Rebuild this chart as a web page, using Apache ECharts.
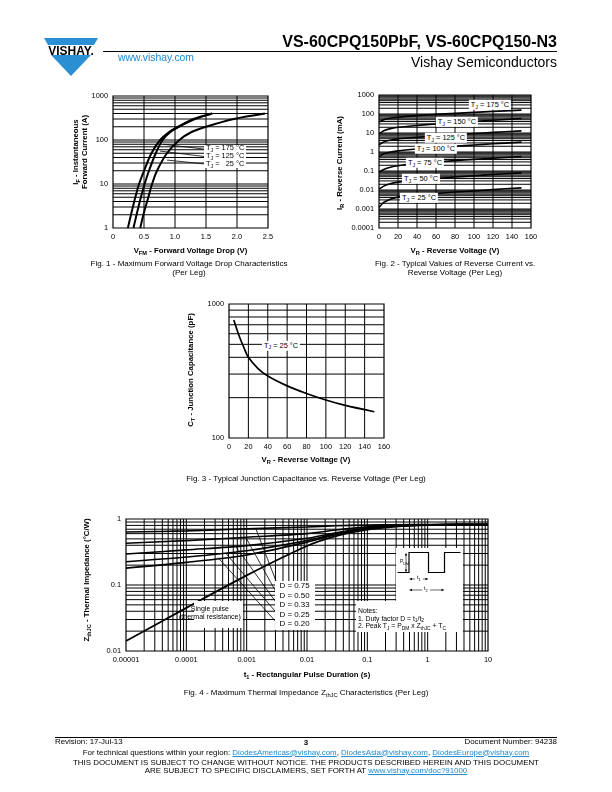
<!DOCTYPE html>
<html><head><meta charset="utf-8"><title>VS-60CPQ150PbF</title>
<script src="https://cdn.jsdelivr.net/npm/echarts@6.0.0/dist/echarts.min.js"></script>
<style>
html,body{margin:0;padding:0;background:#fff;}
#page{position:relative;width:612px;height:792px;overflow:hidden;background:#fff;font-family:"Liberation Sans",Arial,Helvetica,sans-serif;color:#000;}
#chart{position:absolute;left:0;top:0;width:612px;height:792px;}
.tx{position:absolute;white-space:nowrap;line-height:1;z-index:6;}
.s{font-size:72%;position:relative;top:0.3em;}
.box{position:absolute;background:#fff;z-index:5;}
.lnk{color:#1a8ad4;text-decoration:underline;}
</style></head><body>
<div id="page"><div id="chart"></div></div>
<script>
// ---------------- data ----------------
// Fig. 1 - forward voltage drop  [V, A]
const fig1XTicks = [0, 0.5, 1, 1.5, 2, 2.5];
const fig1XLabels = ['0', '0.5', '1.0', '1.5', '2.0', '2.5'];
const fig1YTicks = [1, 10, 100, 1000];
const fig1YLabels = ['1', '10', '100', '1000'];
const fig1Tj175 = [[0.24,1],[0.29,2],[0.36,5],[0.42,10],[0.5,20],[0.62,50],[0.76,100],[0.9,150],[1.05,200],[1.3,300],[1.6,400]];
const fig1Tj125 = [[0.33,1],[0.38,2],[0.45,5],[0.51,10],[0.58,20],[0.69,50],[0.8,100],[0.92,150],[1.06,200],[1.32,300],[1.6,400]];
const fig1Tj25  = [[0.44,1],[0.49,2],[0.57,5],[0.63,10],[0.71,20],[0.87,50],[1.07,100],[1.26,150],[1.5,200],[1.95,300],[2.45,400]];
const fig1Names = ['175', '125', ' 25'];

// Fig. 2 - reverse current  [V] x [mA]
const fig2XTicks = [0, 20, 40, 60, 80, 100, 120, 140, 160];
const fig2YTicks = [0.0001, 0.001, 0.01, 0.1, 1, 10, 100, 1000];
const fig2YLabels = ['0.0001', '0.001', '0.01', '0.1', '1', '10', '100', '1000'];
const fig2V = [0, 5, 10, 20, 40, 60, 80, 100, 120, 150];
const fig2Tj175 = [38, 50, 58, 68, 82, 95, 108, 122, 137, 160];
const fig2Tj150 = [9, 13, 16, 20, 25, 30, 35, 40, 47, 58];
const fig2Tj125 = [2.4, 3.4, 4.0, 4.9, 6.0, 7.1, 8.2, 9.4, 10.8, 13];
const fig2Tj100 = [0.55, 0.8, 0.95, 1.15, 1.45, 1.75, 2.0, 2.35, 2.7, 3.3];
const fig2Tj75  = [0.085, 0.12, 0.15, 0.19, 0.25, 0.3, 0.35, 0.41, 0.47, 0.57];
const fig2Tj50  = [0.011, 0.016, 0.02, 0.026, 0.034, 0.041, 0.048, 0.056, 0.065, 0.08];
const fig2Tj25  = [0.0012, 0.0022, 0.003, 0.0042, 0.0055, 0.0066, 0.0078, 0.009, 0.0105, 0.013];
const fig2Names = ['175', '150', '125', '100', '75', '50', '25'];

// Fig. 3 - junction capacitance  [V] x [pF]
const fig3XTicks = [0, 20, 40, 60, 80, 100, 120, 140, 160];
const fig3YTicks = [100, 1000];
const fig3V = [5, 10, 15, 20, 30, 40, 60, 80, 100, 120, 150];
const fig3C = [760, 590, 480, 400, 330, 290, 245, 215, 192, 175, 157];

// Fig. 4 - thermal impedance  [s] x [degC/W]
const fig4XTicks = [0.00001, 0.0001, 0.001, 0.01, 0.1, 1, 10];
const fig4XLabels = ['0.00001', '0.0001', '0.001', '0.01', '0.1', '1', '10'];
const fig4YTicks = [0.01, 0.1, 1];
const fig4YLabels = ['0.01', '0.1', '1'];
const fig4T = [0.00001, 0.0001, 0.001, 0.01, 0.03, 0.1, 0.3, 1, 3, 10];
const fig4D075 = [0.634, 0.66, 0.71, 0.757, 0.79, 0.81, 0.82, 0.825, 0.825, 0.825];
const fig4D050 = [0.43, 0.47, 0.53, 0.6, 0.68, 0.76, 0.8, 0.82, 0.825, 0.825];
const fig4D033 = [0.295, 0.34, 0.395, 0.51, 0.62, 0.73, 0.79, 0.815, 0.825, 0.825];
const fig4D025 = [0.225, 0.265, 0.33, 0.47, 0.6, 0.72, 0.785, 0.815, 0.825, 0.825];
const fig4D020 = [0.18, 0.22, 0.285, 0.445, 0.58, 0.71, 0.78, 0.81, 0.825, 0.825];
const fig4Single = [0.0142, 0.045, 0.14, 0.39, 0.55, 0.69, 0.77, 0.81, 0.825, 0.825];
const fig4DNames = ['0.75', '0.50', '0.33', '0.25', '0.20'];

// ---------------- helpers ----------------
const FONT = '"Liberation Sans", Arial, sans-serif';
function lbl(ticks, labels) {
  return v => {
    for (let i = 0; i < ticks.length; i++) {
      if (Math.abs(v - ticks[i]) <= Math.abs(ticks[i]) * 1e-6 + 1e-12) return labels ? labels[i] : String(ticks[i]);
    }
    return '';
  };
}
function logLines(minE, maxE) {
  const out = [];
  for (let e = minE; e < maxE; e++) {
    for (let m = 1; m <= 9; m++) {
      if (e === minE && m === 1) continue;
      out.push(m * Math.pow(10, e));
    }
  }
  return out;
}
function zip(xs, ys) { return xs.map((x, i) => [x, ys[i]]); }
const base = () => ({
  axisLine: { show: false }, axisTick: { show: false }, splitLine: { show: false },
  axisLabel: { fontSize: 7.4, color: '#000', fontFamily: FONT, margin: 5 }
});
function valAxis(gi, min, max, interval, ticks, labels) {
  const a = base();
  return Object.assign(a, { type: 'value', gridIndex: gi, min, max, interval,
    axisLabel: Object.assign(a.axisLabel, { formatter: lbl(ticks, labels) }) });
}
function logAxis(gi, min, max, ticks, labels) {
  const a = base();
  return Object.assign(a, { type: 'log', logBase: 10, gridIndex: gi, min, max,
    splitNumber: Math.round(Math.log10(max / min)),
    axisLabel: Object.assign(a.axisLabel, { customValues: ticks, formatter: lbl(ticks, labels) }) });
}
// gridlines drawn as one gapped line series per plot
function gridSeries(gi, xs, ys, xr, yr, w) {
  const data = [];
  xs.forEach(v => { data.push([v, yr[0]], [v, yr[1]], [v, '-']); });
  ys.forEach(v => { data.push([xr[0], v], [xr[1], v], [xr[1], '-']); });
  return { type: 'line', xAxisIndex: gi, yAxisIndex: gi, data, symbol: 'none', connectNulls: false,
    lineStyle: { color: '#000', width: w || 1 }, silent: true, z: 1, clip: true };
}
function curve(gi, data, w) {
  return { type: 'line', xAxisIndex: gi, yAxisIndex: gi, data, symbol: 'none', smooth: 0.3,
    lineStyle: { color: '#000', width: w }, silent: true, z: 3 };
}
function leaders(gi, segs) {
  const data = [];
  segs.forEach(s => { data.push(s[0], s[1], [s[1][0], '-']); });
  return { type: 'line', xAxisIndex: gi, yAxisIndex: gi, data, symbol: 'none', connectNulls: false,
    lineStyle: { color: '#000', width: 0.8 }, silent: true, z: 2 };
}

// leader line geometry (data units)
const fig1Leaders = [[[0.81, 80], [1.48, 62]], [[0.76, 56], [1.48, 42]], [[0.87, 35], [1.48, 28.5]]];
const fig4Leaders = [
  [[0.00143, 0.70], [0.0033, 0.0966]],
  [[0.000975, 0.52], [0.0033, 0.0693]],
  [[0.000665, 0.38], [0.0033, 0.0498]],
  [[0.000455, 0.30], [0.0033, 0.0357]],
  [[0.000335, 0.26], [0.0033, 0.0257]]
];

const chart = echarts.init(document.getElementById('chart'), null, { renderer: 'canvas' });
const gridBox = g => Object.assign({ show: true, borderColor: '#000', borderWidth: 1.2, backgroundColor: 'transparent', containLabel: false }, g);

const option = {
  animation: false,
  textStyle: { fontFamily: FONT },
  grid: [
    gridBox({ left: 113, top: 96, width: 155, height: 132 }),
    gridBox({ left: 379, top: 95, width: 152, height: 133 }),
    gridBox({ left: 229, top: 304, width: 155, height: 134 }),
    gridBox({ left: 126, top: 519, width: 362, height: 132 })
  ],
  xAxis: [
    valAxis(0, 0, 2.5, 0.5, fig1XTicks, fig1XLabels),
    valAxis(1, 0, 160, 20, fig2XTicks),
    valAxis(2, 0, 160, 20, fig3XTicks),
    logAxis(3, 0.00001, 10, fig4XTicks, fig4XLabels)
  ],
  yAxis: [
    logAxis(0, 1, 1000, fig1YTicks, fig1YLabels),
    logAxis(1, 0.0001, 1000, fig2YTicks, fig2YLabels),
    logAxis(2, 100, 1000, fig3YTicks),
    logAxis(3, 0.01, 1, fig4YTicks, fig4YLabels)
  ],
  series: [
    gridSeries(0, [0.5, 1, 1.5, 2], logLines(0, 3), [0, 2.5], [1, 1000], 1),
    curve(0, fig1Tj175, 2), curve(0, fig1Tj125, 2), curve(0, fig1Tj25, 2),
    leaders(0, fig1Leaders),

    gridSeries(1, [20, 40, 60, 80, 100, 120, 140], logLines(-4, 3), [0, 160], [0.0001, 1000], 1),
    curve(1, zip(fig2V, fig2Tj175), 1.6), curve(1, zip(fig2V, fig2Tj150), 1.6),
    curve(1, zip(fig2V, fig2Tj125), 1.6), curve(1, zip(fig2V, fig2Tj100), 1.6),
    curve(1, zip(fig2V, fig2Tj75), 1.6), curve(1, zip(fig2V, fig2Tj50), 1.6),
    curve(1, zip(fig2V, fig2Tj25), 1.6),

    gridSeries(2, [20, 40, 60, 80, 100, 120, 140], logLines(2, 3), [0, 160], [100, 1000], 1),
    curve(2, zip(fig3V, fig3C), 1.7),

    gridSeries(3, logLines(-5, 1), logLines(-2, 0), [0.00001, 10], [0.01, 1], 1),
    curve(3, zip(fig4T, fig4D075), 1.6), curve(3, zip(fig4T, fig4D050), 1.6),
    curve(3, zip(fig4T, fig4D033), 1.6), curve(3, zip(fig4T, fig4D025), 1.6),
    curve(3, zip(fig4T, fig4D020), 1.6), curve(3, zip(fig4T, fig4Single), 1.8),
    leaders(3, fig4Leaders)
  ]
};
chart.setOption(option);

// ---------------- text & annotations ----------------
const page = document.getElementById('page');
function addText(html, x, y, o = {}) {
  const d = document.createElement('div');
  d.className = 'tx';
  d.innerHTML = html;
  d.style.left = x + 'px';
  d.style.top = y + 'px';
  d.style.fontSize = (o.size || 7) + 'px';
  if (o.bold) d.style.fontWeight = 'bold';
  if (o.color) d.style.color = o.color;
  if (o.bg) { d.style.background = o.bg; d.style.padding = o.pad || '1px 1px'; }
  if (o.lh) d.style.lineHeight = o.lh;
  const ax = o.anchor === 'r' ? '-100%' : (o.anchor === 'l' ? '0' : '-50%');
  const ay = o.va === 't' ? '0' : '-50%';
  d.style.transform = `translate(${ax},${ay})` + (o.rot ? ` rotate(${o.rot}deg)` : '');
  page.appendChild(d);
  return d;
}
function addBox(x1, y1, x2, y2) {
  const d = document.createElement('div');
  d.className = 'box';
  d.style.left = Math.min(x1, x2) + 'px'; d.style.top = Math.min(y1, y2) + 'px';
  d.style.width = Math.abs(x2 - x1) + 'px'; d.style.height = Math.abs(y2 - y1) + 'px';
  page.appendChild(d);
  return d;
}
const px = (gi, x, y) => chart.convertToPixel({ gridIndex: gi }, [x, y]);
const CAP = 8, AXT = 7.8, LAB = 7.4;

// header
const logo = document.createElementNS('http://www.w3.org/2000/svg', 'svg');
logo.setAttribute('width', '612'); logo.setAttribute('height', '90');
logo.style.position = 'absolute'; logo.style.left = '0'; logo.style.top = '0';
logo.innerHTML = '<polygon points="44,38 98,38 94,45 48,45" fill="#2b8fd3"/>' +
  '<polygon points="51,55 91,55 71,76" fill="#2b8fd3"/>' +
  '<line x1="103" y1="51.5" x2="557" y2="51.5" stroke="#000" stroke-width="1"/>';
page.appendChild(logo);
addText('VISHAY.', 71, 50.5, { size: 12, bold: true });
addText('VS-60CPQ150PbF, VS-60CPQ150-N3', 557, 42, { size: 16, bold: true, anchor: 'r' });
addText('www.vishay.com', 118, 58, { size: 10.4, color: '#1a8ad4', anchor: 'l' });
addText('Vishay Semiconductors', 557, 62, { size: 14, anchor: 'r' });

// Fig 1 texts
addText('I<span class="s">F</span> - Instantaneous', 76, 152, { size: AXT, bold: true, rot: -90 });
addText('Forward Current (A)', 85, 152, { size: AXT, bold: true, rot: -90 });
addText('V<span class="s">FM</span> - Forward Voltage Drop (V)', 190.5, 251, { size: AXT, bold: true });
addText('Fig. 1 - Maximum Forward Voltage Drop Characteristics', 189, 264, { size: CAP });
addText('(Per Leg)', 189, 273, { size: CAP });
{
  const ys = [66, 43, 28];
  const p0 = px(0, 1.47, 76), p1 = px(0, 2.14, 23.5);
  addBox(p0[0], p0[1], p1[0], p1[1]);
  fig1Names.forEach((n, i) => {
    const p = px(0, 1.5, ys[i]);
    addText('T<span class="s">J</span> = ' + n.replace(' ', '&nbsp;&nbsp;') + ' °C', p[0], p[1], { size: LAB, anchor: 'l' });
  });
}

// Fig 2 texts
addText('I<span class="s">R</span> - Reverse Current (mA)', 340, 163, { size: AXT, bold: true, rot: -90 });
addText('V<span class="s">R</span> - Reverse Voltage (V)', 455, 251, { size: AXT, bold: true });
addText('Fig. 2 - Typical Values of Reverse Current vs.', 455, 264, { size: CAP });
addText('Reverse Voltage (Per Leg)', 455, 273, { size: CAP });
{
  const pos = [[116.8, 297], [82, 38], [70.5, 5.5], [60, 1.52], [48.4, 0.263], [44.2, 0.038], [42.1, 0.0038]];
  fig2Names.forEach((n, i) => {
    const p = px(1, pos[i][0], pos[i][1]);
    addText('T<span class="s">J</span> = ' + n + ' °C', p[0], p[1], { size: LAB, bg: '#fff', pad: '1px 2px 2px 2px' });
  });
}

// Fig 3 texts
addText('C<span class="s">T</span> - Junction Capacitance (pF)', 191, 370, { size: AXT, bold: true, rot: -90 });
addText('V<span class="s">R</span> - Reverse Voltage (V)', 306, 460, { size: AXT, bold: true });
addText('Fig. 3 - Typical Junction Capacitance vs. Reverse Voltage (Per Leg)', 306, 479, { size: CAP });
{
  const p = px(2, 53.7, 489);
  addText('T<span class="s">J</span> = 25 °C', p[0], p[1], { size: LAB, bg: '#fff', pad: '1px 2px 2px 2px' });
}

// Fig 4 texts
addText('Z<span class="s">thJC</span> - Thermal Impedance (°C/W)', 87, 580, { size: AXT, bold: true, rot: -90 });
addText('t<span class="s">1</span> - Rectangular Pulse Duration (s)', 307, 675, { size: AXT, bold: true });
addText('Fig. 4 - Maximum Thermal Impedance Z<span class="s">thJC</span> Characteristics (Per Leg)', 306, 693, { size: CAP });
{
  const a = px(3, 0.0029, 0.115), b = px(3, 0.0137, 0.0205);
  addBox(a[0], a[1], b[0], b[1]);
  const zs = [0.0966, 0.0693, 0.0498, 0.0357, 0.0257];
  fig4DNames.forEach((n, i) => {
    const p = px(3, 0.0035, zs[i]);
    addText('D = ' + n, p[0], p[1], { size: 7.9, anchor: 'l' });
  });
  const s1 = px(3, 0.000135, 0.057), s2 = px(3, 0.00086, 0.022);
  addBox(s1[0], s1[1], s2[0], s2[1]);
  const sc = px(3, 0.000246, 0.039);
  addText('Single pulse', sc[0], sc[1] - 4, { size: 7 });
  addText('(thermal resistance)', sc[0], sc[1] + 4, { size: 7 });
  const n1 = px(3, 0.0649, 0.0573), n2 = px(3, 3.85, 0.0194);
  addBox(n1[0], n1[1], n2[0], n2[1]);
  const q1 = px(3, 0.298, 0.364), q2 = px(3, 3.85, 0.0573);
  addBox(q1[0], q1[1], q2[0], q2[1] + 1);
  const nt = px(3, 0.07, 0.0573);
  addText('Notes:', nt[0], nt[1] + 10, { size: 6.8, anchor: 'l' });
  addText('1. Duty factor D = t<span class="s">1</span>/t<span class="s">2</span>', nt[0], nt[1] + 18, { size: 6.8, anchor: 'l' });
  addText('2. Peak T<span class="s">J</span> = P<span class="s">DM</span> x Z<span class="s">thJC</span> + T<span class="s">C</span>', nt[0], nt[1] + 25.5, { size: 6.8, anchor: 'l' });
  const ox = q1[0], oy = q1[1];
  const sv = document.createElementNS('http://www.w3.org/2000/svg', 'svg');
  sv.setAttribute('width', '80'); sv.setAttribute('height', '60');
  sv.style.position = 'absolute'; sv.style.left = ox + 'px'; sv.style.top = oy + 'px'; sv.style.zIndex = 7;
  sv.innerHTML =
    '<polyline points="1.5,24.5 13,24.5 13,4.5 32.5,4.5 32.5,24.5 48.5,24.5 48.5,4.5 64.5,4.5" fill="none" stroke="#000" stroke-width="1.2"/>' +
    '<line x1="10" y1="6" x2="10" y2="23" stroke="#000" stroke-width="0.6"/>' +
    '<polygon points="10,4.8 8.8,7.5 11.2,7.5" fill="#000"/><polygon points="10,24.2 8.8,21.5 11.2,21.5" fill="#000"/>' +
    '<line x1="13.5" y1="31" x2="32" y2="31" stroke="#000" stroke-width="0.6"/>' +
    '<polygon points="13.5,31 16,29.8 16,32.2" fill="#000"/><polygon points="32,31 29.5,29.8 29.5,32.2" fill="#000"/>' +
    '<line x1="13.5" y1="42" x2="48" y2="42" stroke="#000" stroke-width="0.6"/>' +
    '<polygon points="13.5,42 16,40.8 16,43.2" fill="#000"/><polygon points="48,42 45.5,40.8 45.5,43.2" fill="#000"/>' +
    '<rect x="19" y="28" width="8" height="6" fill="#fff"/><rect x="26" y="39" width="8" height="6" fill="#fff"/>';
  page.appendChild(sv);
  addText('P<span class="s">DM</span>', ox + 8.5, oy + 14.5, { size: 5, anchor: 'c' }).style.zIndex = 8;
  addText('t<span class="s">1</span>', ox + 23, oy + 30.5, { size: 5.5 }).style.zIndex = 8;
  addText('t<span class="s">2</span>', ox + 30, oy + 41.5, { size: 5.5 }).style.zIndex = 8;
}

// footer
const ft = document.createElementNS('http://www.w3.org/2000/svg', 'svg');
ft.setAttribute('width', '612'); ft.setAttribute('height', '792');
ft.style.position = 'absolute'; ft.style.left = '0'; ft.style.top = '0'; ft.style.pointerEvents = 'none';
ft.innerHTML = '<line x1="55" y1="737.5" x2="557" y2="737.5" stroke="#000" stroke-width="1"/>';
page.appendChild(ft);
const FT = 7.9;
addText('Revision: 17-Jul-13', 55, 742, { size: FT, anchor: 'l' });
addText('3', 306, 743, { size: FT, bold: true });
addText('Document Number: 94238', 557, 742, { size: FT, anchor: 'r' });
addText('For technical questions within your region: <span class="lnk">DiodesAmericas@vishay.com</span>, <span class="lnk">DiodesAsia@vishay.com</span>, <span class="lnk">DiodesEurope@vishay.com</span>', 306, 752.5, { size: FT });
addText('THIS DOCUMENT IS SUBJECT TO CHANGE WITHOUT NOTICE. THE PRODUCTS DESCRIBED HEREIN AND THIS DOCUMENT', 306, 763, { size: FT });
addText('ARE SUBJECT TO SPECIFIC DISCLAIMERS, SET FORTH AT <span class="lnk">www.vishay.com/doc?91000</span>', 306, 771, { size: FT });
</script></body></html>
